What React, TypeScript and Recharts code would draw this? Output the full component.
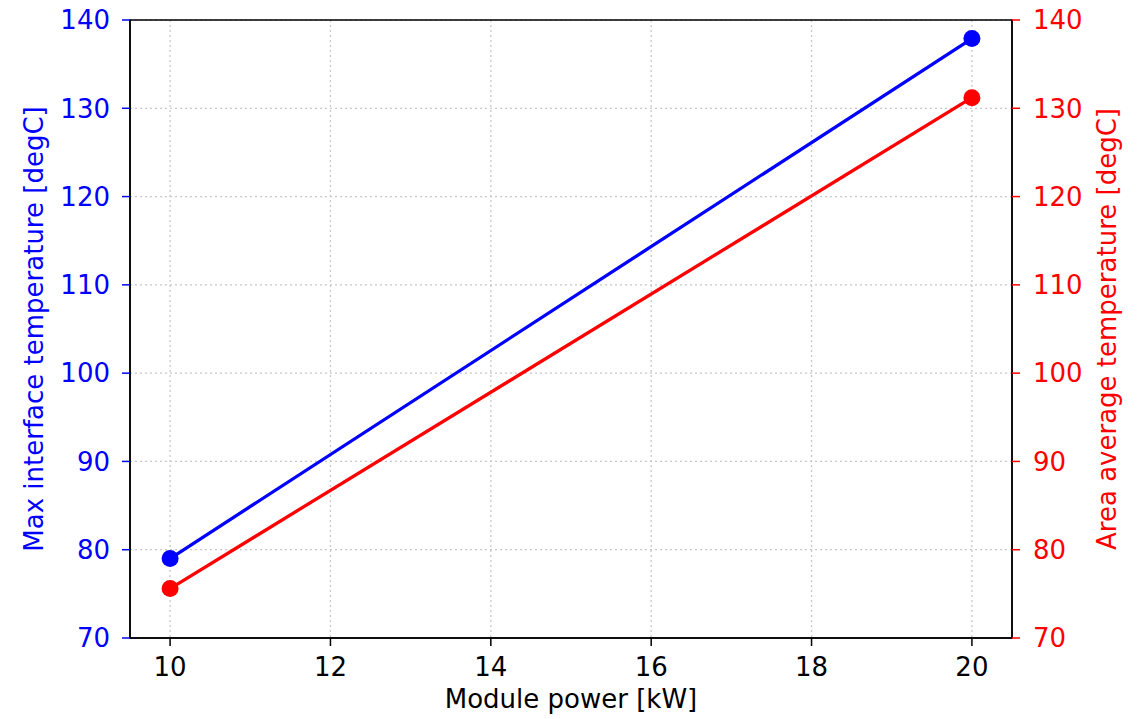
import React from 'react';
import { LineChart, Line, XAxis, YAxis, CartesianGrid, ReferenceArea } from 'recharts';

const modulePower = [10, 20];
const maxInterfaceTemp = [79.0, 137.9];
const areaAverageTemp = [75.6, 131.2];

const xTicks = [10, 12, 14, 16, 18, 20];
const yTicks = [70, 80, 90, 100, 110, 120, 130, 140];

const FONT = '"DejaVu Sans", sans-serif';
const FS = 26;
const BLUE = '#0000ff';
const RED = '#ff0000';

const data = modulePower.map((p, i) => ({
  power: p,
  maxTemp: maxInterfaceTemp[i],
  avgTemp: areaAverageTemp[i],
}));

export default function App() {
  return (
    <div style={{ position: 'absolute', left: 0, top: 0, width: 1138, height: 719, background: '#fff' }}>
      <LineChart width={1138} height={719} data={data} margin={{ top: 20, right: 0, bottom: 0, left: 0 }}>
        <CartesianGrid
          yAxisId="left"
          stroke="#c8c8c8"
          strokeWidth={1.3}
          strokeDasharray="2 3"
          horizontalValues={yTicks}
          verticalValues={xTicks}
        />
        <XAxis
          dataKey="power"
          type="number"
          domain={[9.5, 20.5]}
          ticks={xTicks}
          height={81}
          tickSize={8}
          tickMargin={12}
          axisLine={{ stroke: '#000', strokeWidth: 1.5 }}
          tickLine={{ stroke: '#000', strokeWidth: 1.5 }}
          tick={{ fill: '#000', fontSize: FS, fontFamily: FONT }}
          label={{
            value: 'Module power [kW]',
            position: 'insideBottom',
            offset: 11,
            fill: '#000',
            fontSize: FS,
            fontFamily: FONT,
          }}
        />
        <YAxis
          yAxisId="left"
          orientation="left"
          type="number"
          domain={[70, 140]}
          ticks={yTicks}
          width={130}
          tickSize={8}
          tickMargin={12}
          axisLine={{ stroke: '#000', strokeWidth: 1.5 }}
          tickLine={{ stroke: BLUE, strokeWidth: 1.5 }}
          tick={{ fill: BLUE, fontSize: FS, fontFamily: FONT }}
          label={{
            value: 'Max interface temperature [degC]',
            angle: -90,
            position: 'insideLeft',
            offset: 34,
            fill: BLUE,
            fontSize: FS,
            fontFamily: FONT,
            style: { textAnchor: 'middle' },
          }}
        />
        <YAxis
          yAxisId="right"
          orientation="right"
          type="number"
          domain={[70, 140]}
          ticks={yTicks}
          width={126}
          tickSize={8}
          tickMargin={13}
          axisLine={{ stroke: '#000', strokeWidth: 1.5 }}
          tickLine={{ stroke: RED, strokeWidth: 1.5 }}
          tick={{ fill: RED, fontSize: FS, fontFamily: FONT }}
          label={{
            value: 'Area average temperature [degC]',
            angle: -90,
            position: 'insideRight',
            offset: 31,
            fill: RED,
            fontSize: FS,
            fontFamily: FONT,
            style: { textAnchor: 'middle' },
          }}
        />
        <ReferenceArea
          yAxisId="left"
          x1={9.5}
          x2={20.5}
          y1={70}
          y2={140}
          fill="none"
          fillOpacity={0}
          stroke="#000"
          strokeWidth={1.5}
        />
        <Line
          yAxisId="left"
          dataKey="maxTemp"
          stroke={BLUE}
          strokeWidth={3.3}
          dot={{ r: 8.5, fill: BLUE, stroke: BLUE, strokeWidth: 0 }}
          isAnimationActive={false}
        />
        <Line
          yAxisId="right"
          dataKey="avgTemp"
          stroke={RED}
          strokeWidth={3.3}
          dot={{ r: 8.5, fill: RED, stroke: RED, strokeWidth: 0 }}
          isAnimationActive={false}
        />
      </LineChart>
    </div>
  );
}
